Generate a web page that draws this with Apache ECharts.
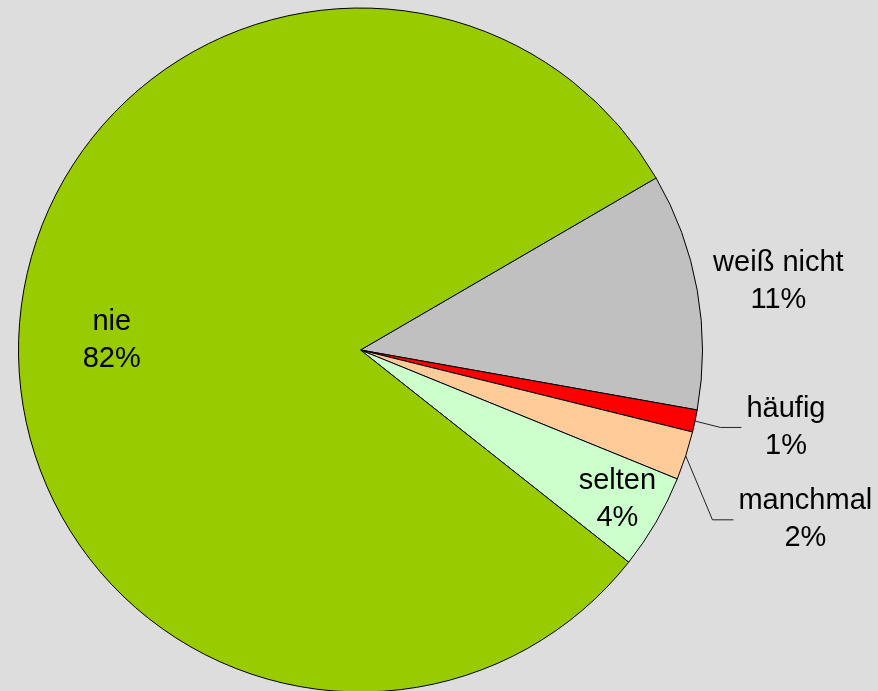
<!DOCTYPE html>
<html>
<head>
<meta charset="utf-8">
<script src="https://cdn.jsdelivr.net/npm/echarts@6.0.0/dist/echarts.min.js"></script>
<style>
  html, body { margin: 0; padding: 0; background: #DDDDDD; }
  #chart { width: 878px; height: 691px; }
</style>
</head>
<body>
<div id="chart"></div>
<script>
var chart = echarts.init(document.getElementById('chart'));

// Antworten, im Uhrzeigersinn ab der Grenze nie / weiß nicht
var names = ['weiß nicht', 'häufig', 'manchmal', 'selten', 'nie'];
var shares = [11.2, 1.05, 2.3, 4.5, 81.0];   // Anteile nach Winkel im Bild
var printedPct = [11, 1, 2, 4, 82];          // wie beschriftet
var colors = ['#C0C0C0', '#FF0000', '#FFCC99', '#CCFFCC', '#99CC00'];

var fontSty = { fontFamily: 'Liberation Sans, Arial, sans-serif', fontSize: 29, lineHeight: 37, color: '#000' };

// kleine Verschiebungen der Beschriftungen (Excel-Stil)
var nudgeOuter = { 0: [1, -7.5], 1: [0, 1], 2: [2, 56] };
var nudgeInner = { 4: [0, 8], 3: [0, 0] };

function fmt(p) { return p.name + '\n' + printedPct[p.dataIndex] + '%'; }

function makeData(showIdx, transparent) {
  return names.map(function (n, i) {
    var item = { name: n, value: shares[i] };
    item.itemStyle = transparent ? { color: 'transparent', borderWidth: 0 } : { color: colors[i] };
    item.label = { show: showIdx.indexOf(i) >= 0 };
    if (transparent) item.labelLine = { show: false };
    else if (n === 'weiß nicht') item.labelLine = { show: false, length: 9, length2: 1 };
    return item;
  });
}

var common = {
  type: 'pie',
  center: [360.5, 350],
  startAngle: 30.2,
  clockwise: true,
  avoidLabelOverlap: false,
  silent: true,
  emphasis: { disabled: true }
};

var outerSeries = Object.assign({}, common, {
  radius: [0, 342],
  itemStyle: { borderColor: '#000', borderWidth: 1 },
  label: Object.assign({ position: 'outside', formatter: fmt }, fontSty),
  labelLine: { show: true, length: 26, length2: 21, smooth: false, lineStyle: { color: '#222', width: 1 } },
  labelLayout: function (p) {
    var s = nudgeOuter[p.dataIndex] || [0, 0];
    var r = p.labelRect;
    var left = r.x + s[0];
    var midY = r.y + r.height / 2 + s[1];
    var res = { x: left + r.width / 2, y: midY, align: 'center', verticalAlign: 'middle' };
    if (p.labelLinePoints) {
      var a = p.labelLinePoints[0];
      res.labelLinePoints = [a, [left - 26, midY], [left - 5, midY]];
    }
    return res;
  },
  data: makeData([0, 1, 2], false)
});

function innerSeries(idx, r0, r1) {
  return Object.assign({}, common, {
    radius: [r0, r1],
    z: 3,
    label: Object.assign({ position: 'inside', formatter: fmt }, fontSty),
    labelLayout: function (p) {
      var s = nudgeInner[p.dataIndex] || [0, 0];
      var r = p.labelRect;
      return { x: r.x + r.width / 2 + s[0], y: r.y + r.height / 2 + s[1], align: 'center', verticalAlign: 'middle' };
    },
    data: makeData([idx], true)
  });
}

var option = {
  backgroundColor: '#DDDDDD',
  animation: false,
  tooltip: { show: false },
  series: [
    outerSeries,
    innerSeries(4, 200, 292.8),
    innerSeries(3, 250, 338.8)
  ]
};

chart.setOption(option);
</script>
</body>
</html>
